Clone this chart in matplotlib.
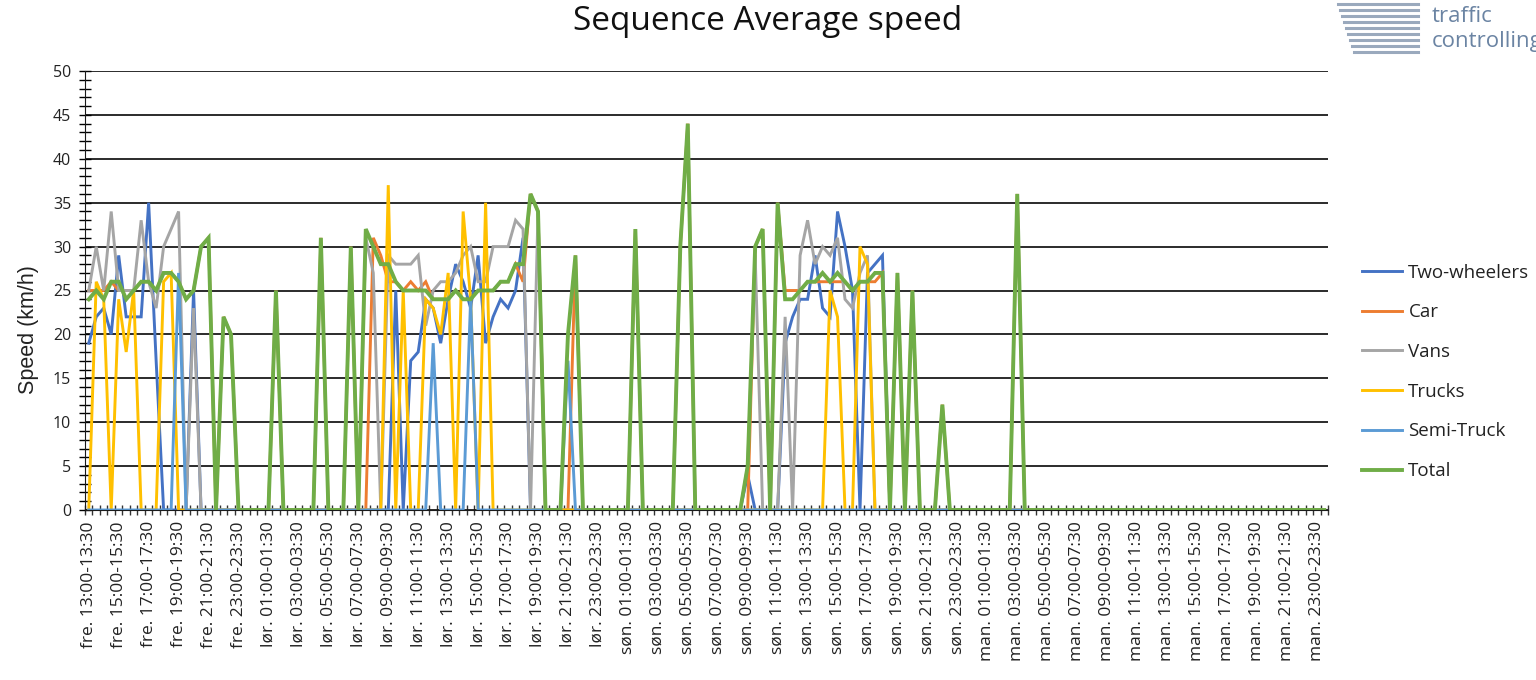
import numpy as np
import matplotlib.pyplot as plt
from matplotlib.ticker import MultipleLocator, FixedLocator

plt.rcParams['font.family'] = ['Open Sans', 'DejaVu Sans']

# categories: half-hour slots from fre 13:00 to man 23:30
days = ['fre.'] * 22 + ['lør.'] * 48 + ['søn.'] * 48 + ['man.'] * 48
starts = list(range(26, 48)) + list(range(48)) * 3
slots = ['%s %02d:%02d-%02d:%02d' % (d, s // 2, 30 * (s % 2), (s + 1) // 2 if s % 2 else s // 2, 0 if s % 2 else 30)
         for d, s in zip(days, starts)]

# values (km/h), per day block
two_wheelers = ([19, 22, 23, 20, 29, 22, 22, 22, 35, 17, 0, 0, 0, 0, 25, 0, 0, 0, 0, 0, 0, 0] +
                [0] * 19 + [25, 0, 17, 18, 24, 23, 19, 24, 28, 26, 23, 29, 19, 22, 24, 23, 25, 31] + [0] * 11 +
                [0] * 18 + [4, 0, 0, 0, 0, 19, 22, 24, 24, 29, 23, 22, 34, 30, 25, 0, 27, 28, 29] + [0] * 11 +
                [0] * 48)
car = ([25, 25, 25, 26, 25, 25, 25, 26, 26, 25, 27, 27, 26, 24, 25, 30, 31, 0, 22, 20, 0, 0] +
       [0, 0, 0, 25, 0, 0, 0, 0, 0, 31,
        0, 0, 0, 30, 0, 0, 31, 29, 26, 26,
        25, 26, 25, 26, 24, 24, 24, 25, 24, 24,
        25, 25, 25, 26, 26, 28, 26, 36, 34, 0,
        0, 0, 0, 29, 0, 0, 0, 0] +
       [0, 0, 0, 32, 0, 0, 0, 0, 0, 30,
        44, 0, 0, 0, 0, 0, 0, 0, 0, 30,
        32, 0, 35, 25, 25, 25, 26, 26, 26, 26,
        26, 26, 25, 26, 26, 26, 27, 0, 27, 0,
        25, 0, 0, 0, 12, 0, 0, 0] +
       [0] * 6 + [36] + [0] * 41)
vans = ([25, 30, 25, 34, 25, 25, 25, 33, 26, 23, 30, 32, 34, 0, 23, 0, 0, 0, 0, 0, 0, 0] +
        [0] * 15 + [31, 27, 0, 29, 28, 28, 28, 29, 21, 25, 26, 26, 27, 29, 30, 26, 26, 30, 30, 30, 33, 32, 0, 34] + [0] * 9 +
        [0] * 18 + [5, 29, 0, 0, 0, 22, 0, 29, 33, 28, 30, 29, 31, 24, 23, 27, 29] + [0] * 13 +
        [0] * 48)
trucks = ([0, 26, 24, 0, 24, 18, 25, 0, 0, 0, 26, 27, 0, 0, 0, 0, 0, 0, 0, 0, 0, 0] +
          [0] * 18 + [37, 0, 25, 0, 0, 24, 23, 20, 27, 0, 34, 24, 0, 35] + [0] * 16 +
          [0] * 29 + [25, 22, 0, 0, 30, 28] + [0] * 13 +
          [0] * 48)
semi_truck = ([0] * 12 + [27] + [0] * 9 +
              [0] * 24 + [19, 0, 0, 0, 0, 24] + [0] * 12 + [17] + [0] * 5 +
              [0] * 48 +
              [0] * 48)
total = ([24, 25, 24, 26, 26, 24, 25, 26, 26, 25, 27, 27, 26, 24, 25, 30, 31, 0, 22, 20, 0, 0] +
         [0, 0, 0, 25, 0, 0, 0, 0, 0, 31,
          0, 0, 0, 30, 0, 32, 30, 28, 28, 26,
          25, 25, 25, 25, 24, 24, 24, 25, 24, 24,
          25, 25, 25, 26, 26, 28, 28, 36, 34, 0,
          0, 0, 20, 29, 0, 0, 0, 0] +
         [0, 0, 0, 32, 0, 0, 0, 0, 0, 30,
          44, 0, 0, 0, 0, 0, 0, 0, 5, 30,
          32, 0, 35, 24, 24, 25, 26, 26, 27, 26,
          27, 26, 25, 26, 26, 27, 27, 0, 27, 0,
          25, 0, 0, 0, 12, 0, 0, 0] +
         [0] * 6 + [36] + [0] * 41)

series = [('Two-wheelers', two_wheelers, '#4472C4'),
          ('Car', car, '#ED7D31'),
          ('Vans', vans, '#A5A5A5'),
          ('Trucks', trucks, '#FFC000'),
          ('Semi-Truck', semi_truck, '#5B9BD5'),
          ('Total', total, '#70AD47')]

fig = plt.figure(figsize=(15.36, 6.8), dpi=100)
ax = fig.add_axes([85 / 1536, 170 / 680, 1243 / 1536, 439 / 680])

x = np.arange(len(slots))
for name, vals, col in series:
    lw = 2.8 if name == 'Total' else 2.1
    ax.plot(x, vals, color=col, lw=lw, label=name, solid_joinstyle='miter')

ax.set_xlim(-0.5, len(slots) - 0.5)
ax.set_ylim(0, 50)
ax.yaxis.set_major_locator(MultipleLocator(5))
ax.yaxis.set_minor_locator(MultipleLocator(1))
ax.grid(axis='y', which='major', color='#1a1a1a', lw=1.3)
ax.set_axisbelow(True)

ax.set_xticks(x[::4])
ax.set_xticklabels(slots[::4], rotation=90, fontsize=12.5, color='#222222')
ax.xaxis.set_minor_locator(FixedLocator(np.arange(-0.5, len(slots), 1)))
ax.tick_params(axis='x', which='major', length=0, pad=8)
ax.tick_params(axis='x', which='minor', direction='inout', length=7, width=1, color='#333333')
ax.tick_params(axis='y', which='both', direction='inout', length=8, width=1, labelsize=11.5, pad=6,
               labelcolor='#222222')

for s in ['top', 'right']:
    ax.spines[s].set_visible(False)
ax.spines['left'].set_color('#1a1a1a')
ax.spines['bottom'].set_color('#1a1a1a')

ax.set_ylabel('Speed (km/h)', fontsize=15.5, family='Liberation Sans', color='#222222')
ax.yaxis.set_label_coords(-46 / 1243, 0.41)
fig.text(768 / 1536, 1 - 21 / 680, 'Sequence Average speed', ha='center', va='center', fontsize=24,
         color='#111111')

leg = fig.legend(loc='upper left', bbox_to_anchor=(1354 / 1536, 1 - 256 / 680), frameon=False,
                 fontsize=13.5, handlelength=2.15, labelspacing=1.16, handletextpad=0.35, borderaxespad=0)
for t in leg.get_texts():
    t.set_color('#222222')

# logo in the corner
for k in range(9):
    yy = 1 - (4 + k * 6) / 680
    x0 = (1338 + k * 2) / 1536
    fig.add_artist(plt.Line2D([x0, 1418 / 1536], [yy, yy], color='#9aa9bd', lw=2.2))
fig.text(1432 / 1536, 1 - 16 / 680, 'traffic', color='#6b84a3', fontsize=16, va='center')
fig.text(1432 / 1536, 1 - 42 / 680, 'controlling', color='#6b84a3', fontsize=16, va='center')

fig.savefig('out.png', dpi=100)
